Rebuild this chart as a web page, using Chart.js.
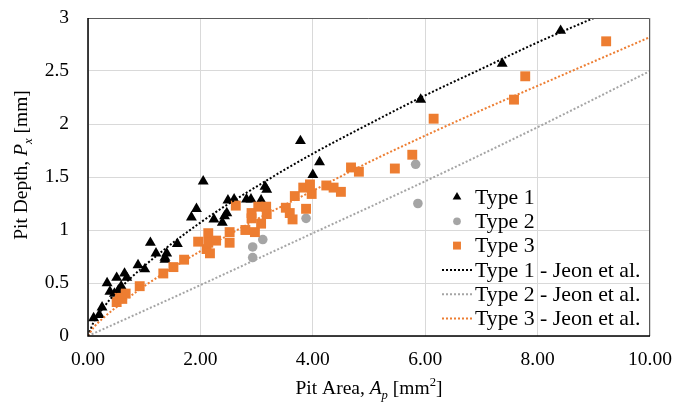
<!DOCTYPE html>
<html>
<head>
<meta charset="utf-8">
<script src="https://cdn.jsdelivr.net/npm/chart.js@4/dist/chart.umd.min.js"></script>
<style>
    html, body { margin: 0; padding: 0; background: #fff; }
</style>
</head>
<body>
<canvas id="pitChart" width="677" height="405"></canvas>
<script>
// Measured pits (area mm^2, depth mm)
const type1Area  = [0.10, 0.20, 0.25, 0.34, 0.39, 0.47, 0.51, 0.54, 0.59, 0.65, 0.69, 0.89, 1.01, 1.11, 1.21, 1.37, 1.37, 1.40, 1.59, 1.84, 1.93, 2.05, 2.24, 2.39, 2.43, 2.47, 2.49, 2.60, 2.82, 2.90, 3.08, 3.15, 3.18, 3.78, 4.00, 4.12, 5.92, 7.37, 8.41];
const type1Depth = [0.17, 0.20, 0.27, 0.50, 0.42, 0.40, 0.55, 0.43, 0.47, 0.59, 0.55, 0.67, 0.63, 0.88, 0.78, 0.74, 0.72, 0.78, 0.87, 1.12, 1.20, 1.46, 1.10, 1.07, 1.13, 1.16, 1.28, 1.29, 1.29, 1.29, 1.28, 1.41, 1.38, 1.84, 1.52, 1.64, 2.23, 2.57, 2.88];

const type2Area  = [2.93, 2.93, 3.11, 3.88, 5.83, 5.87];
const type2Depth = [0.84, 0.74, 0.91, 1.11, 1.62, 1.25];

const type3Area  = [0.51, 0.56, 0.61, 0.67, 0.92, 1.34, 1.52, 1.71, 1.96, 2.11, 2.14, 2.14, 2.17, 2.28, 2.52, 2.52, 2.63, 2.80, 2.91, 2.91, 2.97, 3.03, 3.08, 3.17, 3.18, 3.52, 3.59, 3.64, 3.68, 3.83, 3.88, 3.95, 3.98, 4.24, 4.37, 4.50, 4.68, 4.82, 5.46, 5.77, 6.15, 7.58, 7.78, 9.22];
const type3Depth = [0.32, 0.36, 0.35, 0.40, 0.47, 0.59, 0.65, 0.72, 0.89, 0.82, 0.97, 0.88, 0.78, 0.90, 0.98, 0.88, 1.23, 1.00, 1.16, 1.11, 0.98, 1.22, 1.06, 1.22, 1.15, 1.21, 1.16, 1.10, 1.32, 1.40, 1.20, 1.43, 1.34, 1.42, 1.40, 1.36, 1.59, 1.55, 1.58, 1.71, 2.05, 2.23, 2.45, 2.78];

// Jeon et al. curves
const jeon1Area  = [0, 0.1, 0.25, 0.5, 1, 2, 3, 4, 5, 6, 7, 8, 9];
const jeon1Depth = [0, 0.13, 0.25, 0.41, 0.66, 1.07, 1.41, 1.72, 2.00, 2.27, 2.52, 2.77, 3.00];
const jeon2Area  = [0, 2, 4, 6, 8, 10];
const jeon2Depth = [0, 0.48, 0.97, 1.46, 1.97, 2.50];
const jeon3Area  = [0, 0.1, 0.25, 0.5, 1, 2, 3, 4, 5, 6, 7, 8, 9, 10];
const jeon3Depth = [0, 0.08, 0.16, 0.27, 0.47, 0.80, 1.10, 1.37, 1.64, 1.89, 2.13, 2.36, 2.59, 2.82];

const xTicks = [0, 2, 4, 6, 8, 10];
const yTicks = [0, 0.5, 1, 1.5, 2, 2.5, 3];

const FONT = "'Liberation Serif', 'Times New Roman', serif";
const BLACK = '#000000';
const GREY = '#a5a5a5';
const ORANGE = '#ed7d31';

function toPoints(xs, ys) {
    return xs.map((x, i) => ({ x: x, y: ys[i] }));
}

function markerSet(label, xs, ys, color, style, radius, order) {
    return {
        label: label,
        data: toPoints(xs, ys),
        showLine: false,
        pointStyle: style,
        pointRadius: radius,
        pointBackgroundColor: color,
        pointBorderColor: color,
        pointBorderWidth: 0,
        order: order
    };
}

function curveSet(label, xs, ys, color, order) {
    return {
        label: label,
        data: toPoints(xs, ys),
        showLine: true,
        borderColor: color,
        borderWidth: 2,
        borderDash: [2, 2],
        cubicInterpolationMode: 'monotone',
        pointRadius: 0,
        fill: false,
        order: order
    };
}

// Draws text made of pieces with italic / sub / superscript parts
function drawRich(ctx, parts, x, y, size) {
    let total = 0;
    parts.forEach(p => {
        const s = (p.sub || p.sup) ? size * 0.65 : size;
        ctx.font = (p.italic ? 'italic ' : '') + s + 'px ' + FONT;
        p.w = ctx.measureText(p.t).width;
        total += p.w;
    });
    let cx = x - total / 2;
    ctx.textAlign = 'left';
    ctx.textBaseline = 'alphabetic';
    parts.forEach(p => {
        const s = (p.sub || p.sup) ? size * 0.65 : size;
        ctx.font = (p.italic ? 'italic ' : '') + s + 'px ' + FONT;
        let dy = 0;
        if (p.sub) dy = size * 0.25;
        if (p.sup) dy = -size * 0.4;
        ctx.fillText(p.t, cx, y + dy);
        cx += p.w;
    });
}

const xTitle = [
    { t: 'Pit Area, ' }, { t: 'A', italic: true }, { t: 'p', italic: true, sub: true },
    { t: ' [mm' }, { t: '2', sup: true }, { t: ']' }
];
const yTitle = [
    { t: 'Pit Depth, ' }, { t: 'P', italic: true }, { t: 'x', italic: true, sub: true },
    { t: ' [mm]' }
];

const overlay = {
    id: 'overlay',
    afterDraw(chart) {
        const ctx = chart.ctx;
        const a = chart.chartArea;
        ctx.save();
        // frame: dark top/right, black axes
        ctx.lineWidth = 1;
        ctx.strokeStyle = '#595959';
        ctx.beginPath();
        ctx.moveTo(a.left, a.top + 0.5);
        ctx.lineTo(a.right - 0.5, a.top + 0.5);
        ctx.lineTo(a.right - 0.5, a.bottom);
        ctx.stroke();
        ctx.strokeStyle = BLACK;
        ctx.lineWidth = 1.5;
        ctx.beginPath();
        ctx.moveTo(a.left, a.top);
        ctx.lineTo(a.left, a.bottom);
        ctx.lineTo(a.right, a.bottom);
        ctx.stroke();

        ctx.fillStyle = BLACK;
        drawRich(ctx, xTitle, (a.left + a.right) / 2, 394, 19.5);
        ctx.save();
        ctx.translate(27, 165);
        ctx.rotate(-Math.PI / 2);
        drawRich(ctx, yTitle, 0, 0, 19.5);
        ctx.restore();

        // legend inside the plot
        const lx = 457, tx = 475;
        let ly = 197;
        chart.data.datasets.forEach(ds => {
            if (ds.showLine) {
                ctx.strokeStyle = ds.borderColor;
                ctx.lineWidth = 2;
                ctx.setLineDash([2, 2]);
                ctx.beginPath();
                ctx.moveTo(lx - 15, ly);
                ctx.lineTo(lx + 15, ly);
                ctx.stroke();
                ctx.setLineDash([]);
            } else {
                ctx.fillStyle = ds.pointBackgroundColor;
                ctx.strokeStyle = ds.pointBorderColor;
                Chart.helpers.drawPoint(ctx, {
                    pointStyle: ds.pointStyle,
                    radius: ds.pointRadius * 0.8,
                    borderWidth: 0,
                    rotation: 0
                }, lx, ly);
            }
            ctx.fillStyle = BLACK;
            ctx.font = '21.8px ' + FONT;
            ctx.textAlign = 'left';
            ctx.textBaseline = 'middle';
            ctx.fillText(ds.label, tx, ly + 1);
            ly += 24.3;
        });
        ctx.restore();
    }
};

const ctx = document.getElementById('pitChart').getContext('2d');
new Chart(ctx, {
    type: 'scatter',
    data: {
        datasets: [
            markerSet('Type 1', type1Area, type1Depth, BLACK, 'triangle', 6.3, 6),
            markerSet('Type 2', type2Area, type2Depth, GREY, 'circle', 4.8, 5),
            markerSet('Type 3', type3Area, type3Depth, ORANGE, 'rect', 7, 4),
            curveSet('Type 1 - Jeon et al.', jeon1Area, jeon1Depth, BLACK, 3),
            curveSet('Type 2 - Jeon et al.', jeon2Area, jeon2Depth, GREY, 2),
            curveSet('Type 3 - Jeon et al.', jeon3Area, jeon3Depth, ORANGE, 1)
        ]
    },
    options: {
        responsive: false,
        animation: false,
        layout: { padding: { left: 0, top: 18, right: 27, bottom: 0 } },
        plugins: {
            legend: { display: false },
            tooltip: { enabled: false }
        },
        scales: {
            x: {
                type: 'linear',
                min: 0,
                max: 10,
                afterFit: scale => {
                    scale.height = 69;
                    scale.paddingLeft = 0;
                    scale.paddingRight = 0;
                },
                afterBuildTicks: scale => { scale.ticks = xTicks.map(v => ({ value: v })); },
                grid: { color: '#d9d9d9', lineWidth: 1, drawTicks: false },
                border: { display: false },
                ticks: {
                    padding: 12,
                    color: BLACK,
                    font: { family: FONT, size: 19.5 },
                    callback: v => Number(v).toFixed(2)
                }
            },
            y: {
                type: 'linear',
                min: 0,
                max: 3,
                afterFit: scale => {
                    scale.width = 88;
                    scale.paddingTop = 0;
                    scale.paddingBottom = 0;
                },
                afterBuildTicks: scale => { scale.ticks = yTicks.map(v => ({ value: v })); },
                grid: { color: '#d9d9d9', lineWidth: 1, drawTicks: false },
                border: { display: false },
                ticks: {
                    padding: 19,
                    color: BLACK,
                    font: { family: FONT, size: 19.5 },
                    callback: v => String(v)
                }
            }
        }
    },
    plugins: [overlay]
});
</script>
</body>
</html>
